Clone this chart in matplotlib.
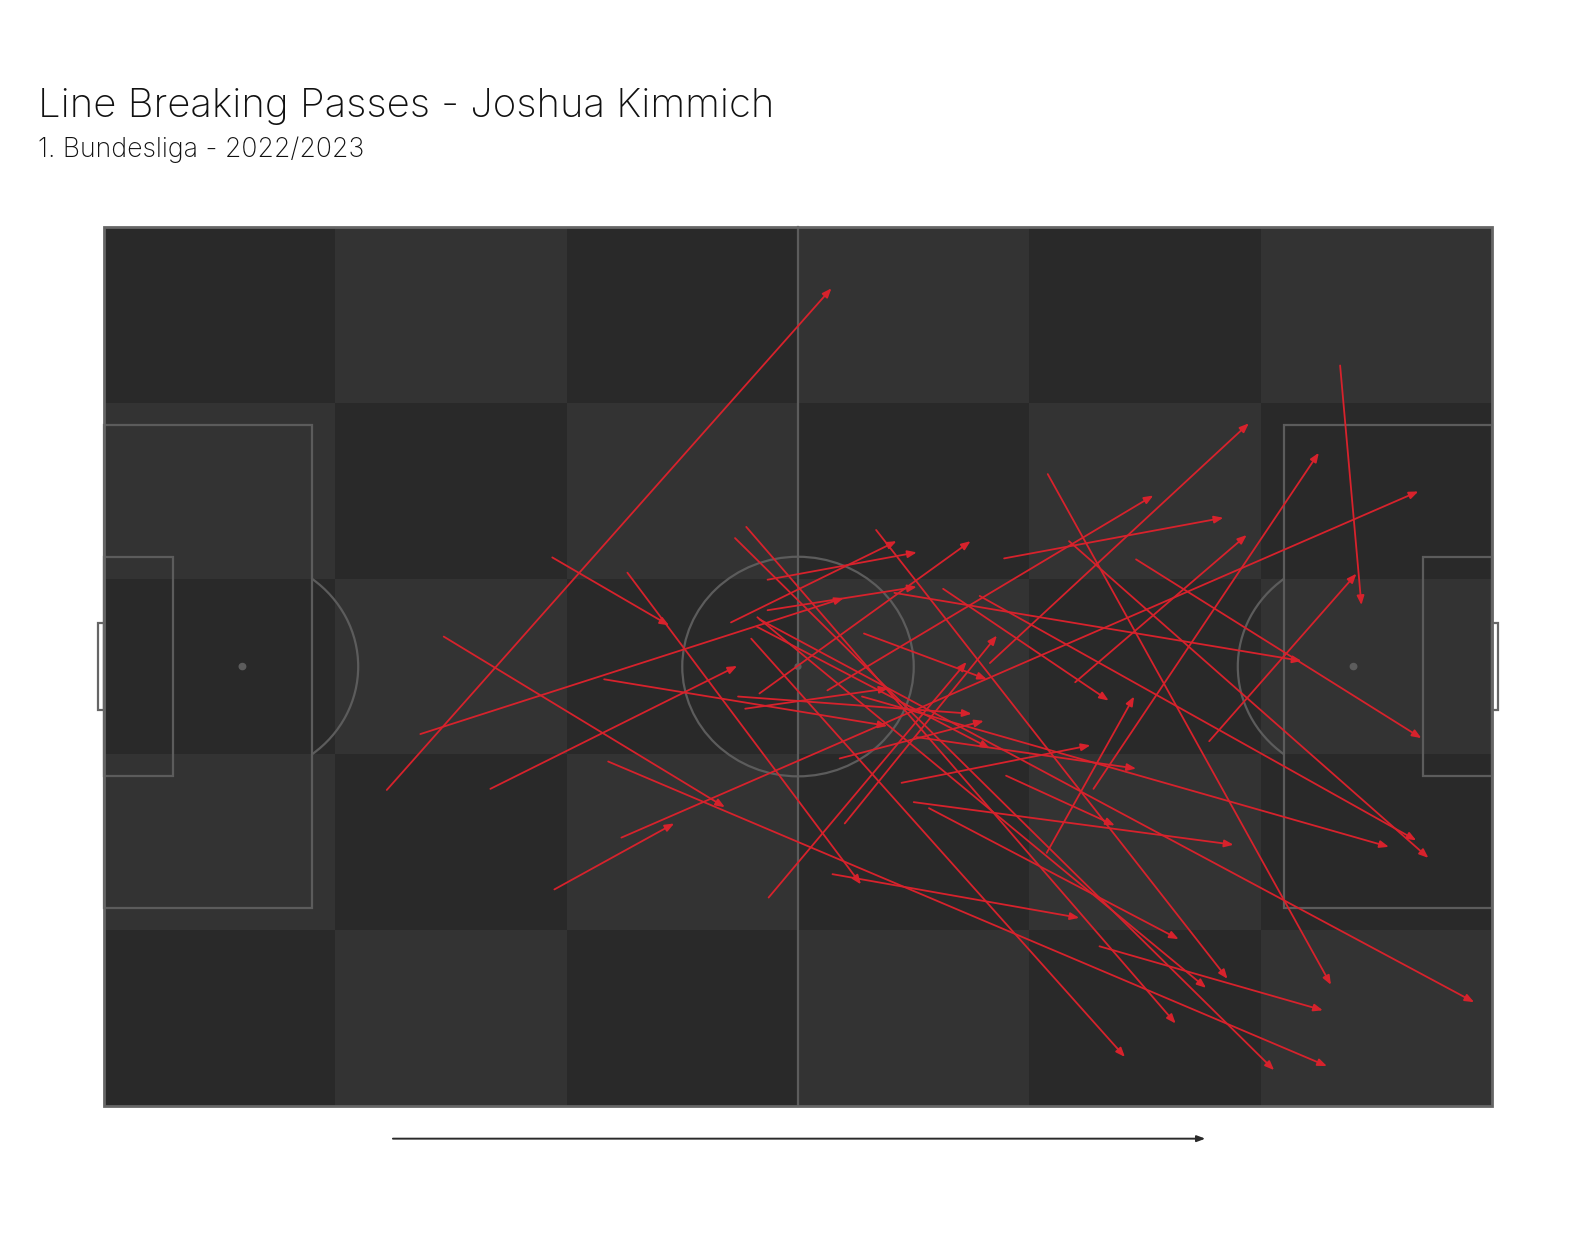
import matplotlib
matplotlib.use("Agg")
import matplotlib.pyplot as plt
from matplotlib.patches import Rectangle, Circle, Arc

# ---- data (StatsBomb pitch units: x 0-120, y 0-80, y downward) ----
x_start = [24.47, 38.77, 45.26, 29.39, 27.37, 33.42, 43.60, 44.74, 38.95, 57.46,
           64.04, 63.60, 68.95, 70.00, 71.32, 62.98, 81.49, 85.53, 81.58, 83.95,
           76.58, 62.54, 77.81, 106.84, 95.53, 89.21, 83.42, 75.70, 68.33, 72.54,
           65.70, 66.75, 54.21, 57.37, 56.67, 57.37, 43.25, 55.44, 54.82, 65.53,
           77.98, 86.05, 55.96, 55.53, 54.56, 56.49, 56.67, 56.40, 70.26]
y_start = [51.24, 30.06, 31.45, 37.27, 46.15, 51.14, 48.65, 55.58, 60.30, 61.04,
           54.29, 48.37, 50.59, 52.35, 52.90, 58.91, 56.97, 51.14, 22.47, 41.43,
           39.68, 42.17, 30.15, 12.58, 46.80, 30.24, 28.58, 33.57, 33.29, 32.92,
           36.99, 27.56, 35.98, 32.09, 42.45, 34.87, 41.16, 43.84, 42.73, 42.73,
           49.94, 65.48, 37.46, 27.28, 28.30, 35.51, 35.70, 36.35, 46.43]
x_end = [62.89, 48.86, 65.44, 53.68, 63.95, 54.74, 105.70, 113.60, 49.30, 74.56,
         77.19, 76.05, 85.26, 97.63, 92.89, 84.30, 89.04, 105.00, 106.05, 98.77,
         98.95, 90.70, 96.75, 108.68, 108.25, 113.86, 114.47, 113.42, 103.51, 86.84,
         76.32, 97.11, 68.51, 70.26, 74.91, 70.26, 67.72, 67.81, 75.00, 111.05,
         87.37, 105.35, 88.25, 92.63, 101.14, 95.26, 118.42, 76.58, 89.21]
y_end = [5.55, 36.25, 59.84, 52.81, 33.76, 39.95, 76.39, 24.05, 54.29, 39.58,
         37.18, 44.95, 47.17, 56.23, 64.83, 62.89, 42.73, 20.53, 68.99, 28.02,
         17.85, 24.42, 26.45, 34.40, 31.54, 46.52, 57.43, 55.83, 39.49, 43.10,
         41.16, 68.44, 28.58, 29.60, 28.58, 32.74, 45.41, 41.99, 44.30, 56.42,
         54.47, 71.31, 75.56, 72.51, 76.76, 69.27, 70.57, 47.45, 49.29]

title = "Line Breaking Passes - Joshua Kimmich"
subtitle = "1. Bundesliga - 2022/2023"

# ---- styling ----
DARK = "#292929"
LIGHT = "#333333"
LINE = "#5c5c5c"
ARROW = "#d7222c"

plt.rcParams['font.family'] = ['Inter', 'DejaVu Sans']

fig = plt.figure(figsize=(15.92, 12.35), dpi=100)
fig.patch.set_facecolor("white")
ax = fig.add_axes([0.05779, 0.09579, 0.88693, 0.72899])
ax.set_xlim(-1, 121)
ax.set_ylim(81, -1)
ax.axis("off")

# checkerboard stripes
for i in range(6):
    for j in range(5):
        c = DARK if (i + j) % 2 == 0 else LIGHT
        ax.add_patch(Rectangle((i * 20, j * 16), 20, 16, facecolor=c,
                               edgecolor="none", zorder=0))

lw = 1.6
ax.add_patch(Rectangle((0, 0), 120, 80, fill=False, edgecolor="#666666", lw=2.0, zorder=2))
ax.plot([60, 60], [0, 80], color=LINE, lw=lw, zorder=1)
ax.add_patch(Circle((60, 40), 10, fill=False, edgecolor=LINE, lw=lw, zorder=1))
ax.add_patch(Circle((60, 40), 0.25, color=LINE, zorder=1))
ax.add_patch(Rectangle((0, 18), 18, 44, fill=False, edgecolor=LINE, lw=lw, zorder=1))
ax.add_patch(Rectangle((0, 30), 6, 20, fill=False, edgecolor=LINE, lw=lw, zorder=1))
ax.add_patch(Circle((12, 40), 0.28, color=LINE, zorder=1))
ax.add_patch(Arc((12, 40), 20, 20, theta1=-53.13, theta2=53.13,
                 edgecolor=LINE, lw=lw, zorder=1))
ax.add_patch(Rectangle((-0.5, 36), 0.5, 8, fill=False, edgecolor="#666666",
                       lw=lw, zorder=1, clip_on=False))
ax.add_patch(Rectangle((102, 18), 18, 44, fill=False, edgecolor=LINE, lw=lw, zorder=1))
ax.add_patch(Rectangle((114, 30), 6, 20, fill=False, edgecolor=LINE, lw=lw, zorder=1))
ax.add_patch(Circle((108, 40), 0.28, color=LINE, zorder=1))
ax.add_patch(Arc((108, 40), 20, 20, theta1=126.87, theta2=233.13,
                 edgecolor=LINE, lw=lw, zorder=1))
ax.add_patch(Rectangle((120, 36), 0.5, 8, fill=False, edgecolor="#666666",
                       lw=lw, zorder=1, clip_on=False))

# passes
for xs, ys, xe, ye in zip(x_start, y_start, x_end, y_end):
    ax.annotate("", xy=(xe, ye), xytext=(xs, ys),
                arrowprops=dict(arrowstyle="-|>,head_length=0.45,head_width=0.18",
                                color=ARROW, lw=1.3, shrinkA=0, shrinkB=0,
                                mutation_scale=12),
                zorder=3)

# direction of play arrow
ax.annotate("", xy=(95.2, 83.0), xytext=(25.0, 83.0), annotation_clip=False,
            arrowprops=dict(arrowstyle="-|>,head_length=0.4,head_width=0.15",
                            color="#2a2a2a", lw=1.4, shrinkA=0, shrinkB=0,
                            mutation_scale=12))

fig.text(37.6 / 1592, 1 - 116.7 / 1235, title, fontsize=28.85, fontweight="light",
         color="#111111", ha="left", va="baseline")
fig.text(37.6 / 1592, 1 - 156.7 / 1235, subtitle, fontsize=19.2, fontweight="light",
         color="#111111", ha="left", va="baseline")

fig.savefig("out.png", dpi=100, facecolor="white")
